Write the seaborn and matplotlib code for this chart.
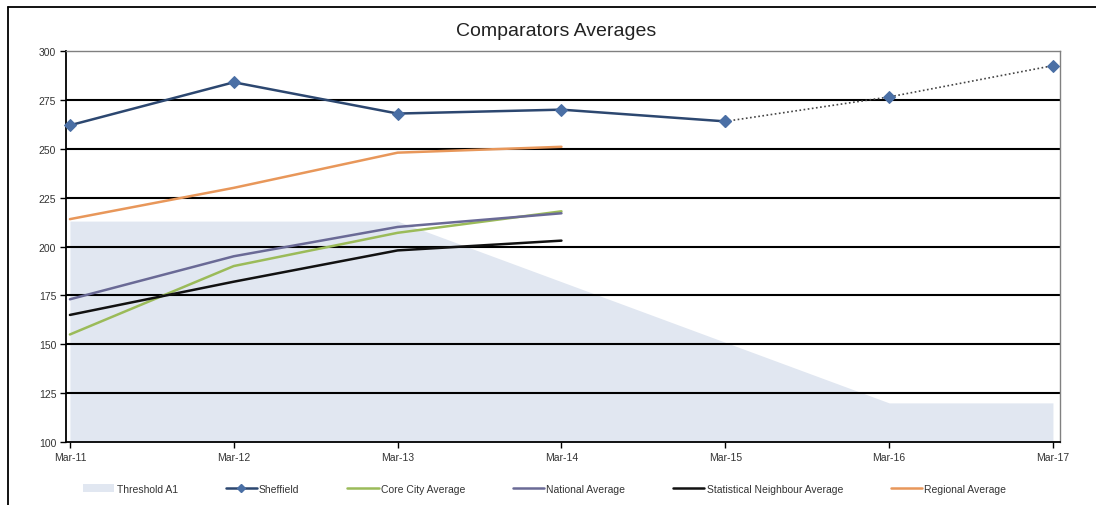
import pandas as pd
import numpy as np
import seaborn as sns
import matplotlib.pyplot as plt
from matplotlib.lines import Line2D
from matplotlib.patches import Patch

# data
months = ['Mar-11', 'Mar-12', 'Mar-13', 'Mar-14', 'Mar-15', 'Mar-16', 'Mar-17']
threshold_a1 = [213, 213, 213, 182, 151, 120, 120]
sheffield = [262, 284, 268, 270, 264]
sheffield_proj = [264, 276.5, 292.5]
core_city = [155, 190, 207, 218]
national = [173, 195, 210, 217]
stat_neighbour = [165, 182, 198, 203]
regional = [214, 230, 248, 251]

sns.set_style("white")
plt.rcParams['font.family'] = ['Liberation Sans', 'DejaVu Sans']

fig = plt.figure(figsize=(10.96, 5.06), dpi=100)
ax = fig.add_axes([66/1096, 1-443/506, 994/1096, 391/506])

x = np.arange(len(months))

# threshold area
ax.fill_between(x, 100, threshold_a1, color='#e1e7f1', lw=0, zorder=1)

# horizontal gridlines
for v in [125, 150, 175, 200, 225, 250, 275]:
    ax.axhline(v, color='black', lw=1.5, zorder=2)

df = pd.DataFrame({'x': x[:4], 'core': core_city, 'nat': national,
                   'stat': stat_neighbour, 'reg': regional})
sns.lineplot(data=df, x='x', y='core', ax=ax, color='#9bbb59', lw=1.8, zorder=3)
sns.lineplot(data=df, x='x', y='nat', ax=ax, color='#6a6a96', lw=1.8, zorder=3)
sns.lineplot(data=df, x='x', y='stat', ax=ax, color='#111111', lw=1.8, zorder=3)
sns.lineplot(data=df, x='x', y='reg', ax=ax, color='#e8975a', lw=1.8, zorder=3)

sns.lineplot(x=x[4:], y=sheffield_proj, ax=ax, color='#444444', lw=1.2,
             linestyle=(0, (1, 1.5)), marker='D', markersize=6,
             markerfacecolor='#4a6fa5', markeredgecolor='#4a6fa5', zorder=4,
             clip_on=False)
sns.lineplot(x=x[:5], y=sheffield, ax=ax, color='#2c4770', lw=1.8,
             marker='D', markersize=6, markerfacecolor='#4a6fa5',
             markeredgecolor='#4a6fa5', zorder=5, clip_on=False)

ax.set_xlim(-0.024, 6.043)
ax.set_ylim(100, 300)
ax.set_yticks(range(100, 301, 25))
ax.set_xticks(x)
ax.set_xticklabels(months)
ax.set_xlabel('')
ax.set_ylabel('')
ax.tick_params(axis='both', labelsize=7.5, colors='black', length=4, width=1,
               direction='out', labelcolor='#333333', pad=3)
ax.tick_params(left=True, bottom=True)
for s in ['left', 'bottom']:
    ax.spines[s].set_color('black')
    ax.spines[s].set_linewidth(1.3)
for s in ['top', 'right']:
    ax.spines[s].set_color('#808080')
    ax.spines[s].set_linewidth(1.0)

fig.text(0.507, 1-31/506, 'Comparators Averages', ha='center', va='center',
         fontsize=14, color='#222222')

# outer frame
fig.add_artist(Line2D([8/1096, 1], [1-8/506, 1-8/506], color='black', lw=1.3,
                      transform=fig.transFigure))
fig.add_artist(Line2D([8/1096, 8/1096], [0, 1-8/506], color='black', lw=1.3,
                      transform=fig.transFigure))

handles = [
    Patch(facecolor='#e1e7f1', edgecolor='none'),
    Line2D([], [], color='#2c4770', lw=1.8, marker='D', markersize=4,
           markerfacecolor='#4a6fa5', markeredgecolor='#4a6fa5'),
    Line2D([], [], color='#9bbb59', lw=1.8),
    Line2D([], [], color='#6a6a96', lw=1.8),
    Line2D([], [], color='#111111', lw=1.8),
    Line2D([], [], color='#e8975a', lw=1.8),
]
labels = ['Threshold A1', 'Sheffield', 'Core City Average', 'National Average',
          'Statistical Neighbour Average', 'Regional Average']
fig.legend(handles, labels, loc='center', bbox_to_anchor=(0.497, 1-490/506),
           ncol=6, frameon=False, fontsize=7.5, handlelength=3.0,
           handletextpad=0.2, columnspacing=4.6, handleheight=0.8,
           labelcolor='#333333')

fig.savefig('out.png', dpi=100)
